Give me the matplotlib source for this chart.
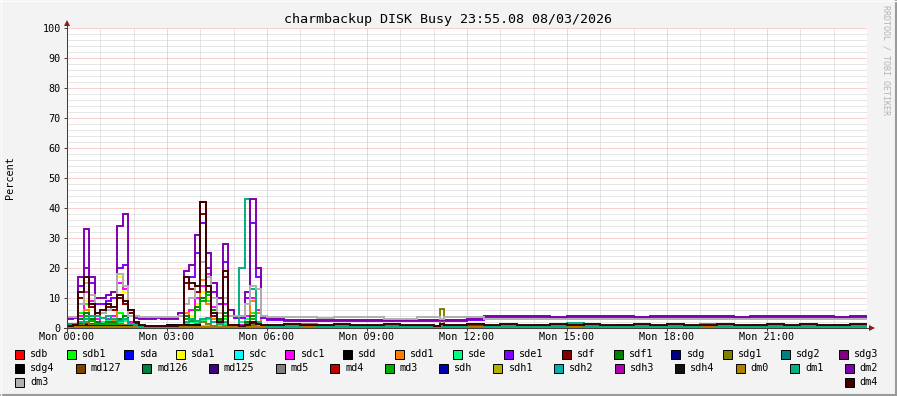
"""
    Disk busy chart (rrdtool style) for charmbackup
"""

import numpy as np
import matplotlib
matplotlib.use('Agg')
import matplotlib.pyplot as plt
from matplotlib.patches import Rectangle, Polygon

plt.rcParams['font.family'] = ['DejaVu Sans Mono']

# time axis (hours from Mon 00:00): 10 min steps for the busy morning,
# 30 min steps later on, with one short sample around 11:12
edges = np.concatenate([np.arange(0, 36) / 6,
                        np.arange(12, 22) / 2,
                        [11.0, 11.2, 11.3],
                        np.arange(23, 49) / 2])
hours = np.arange(25)

# busy series (one value per sample in edges)
dm2 = [3.5, 3.8, 17, 33, 17, 10, 10, 11, 12, 34, 38, 6, 4, 3.5, 3.6, 3.4, 3.8, 3.5,
       3.2, 3.5, 5, 19, 21, 31, 42, 25, 15, 10, 28, 6, 4, 4, 12, 43, 20, 4,
       3.0, 2.8, 2.7, 2.8, 2.7, 2.7, 2.8, 2.7, 2.6, 2.6, 2.6, 2.6, 2.7, 2.8, 3.0, 3.9,
       4.0, 3.9, 4.1, 3.8, 4.0, 4.1, 3.9, 4.0, 3.8, 4.1, 4.0, 3.9, 4.0, 4.1, 3.8, 4.0,
       3.9, 4.1, 4.0, 3.9, 3.8, 4.0]
sde1 = [3.0, 3.2, 14, 20, 15, 8, 8, 9, 10, 20, 21, 5, 3.5, 3.0, 3.0, 3.0, 3.2, 3.0,
        3.0, 3.0, 4, 15, 17, 25, 35, 20, 12, 8, 22, 4, 3.5, 3.5, 10, 35, 17, 3.5,
        2.6, 2.5, 2.4, 2.5, 2.4, 2.5, 2.5, 2.4, 2.3, 2.4, 2.3, 2.4, 2.4, 2.5, 2.7, 3.6,
        3.7, 3.6, 3.8, 3.5, 3.7, 3.8, 3.6, 3.7, 3.5, 3.8, 3.7, 3.6, 3.7, 3.8, 3.5, 3.7,
        3.6, 3.8, 3.7, 3.6, 3.5, 3.7]
dm4 = [0.7, 1, 12, 17, 8, 5, 6, 8, 7, 11, 9, 6, 2, 1, 0.6, 0.7, 0.6, 0.6,
       0.7, 0.6, 1, 17, 15, 14, 42, 14, 5, 2, 19, 1, 1, 0.8, 1, 2, 1.5, 1,
       1.0, 1.2, 0.9, 1.1, 1.3, 1.0, 0.9, 1.2, 1.1, 1.0, 0.8, 1.2, 1.0, 1.1, 1.3, 1.0,
       1.2, 0.9, 1.1, 1.3, 1.0, 1.2, 0.9, 1.1, 1.2, 1.0, 1.3, 0.9, 1.1, 1.2, 1.0, 1.1,
       1.3, 0.9, 1.2, 1.0, 1.1, 1.2]
sdf = [0.5, 0.8, 10, 15, 7, 4, 5, 7, 6, 10, 8, 5, 1.5, 0.8, 0.5, 0.5, 0.5, 0.5,
       0.5, 0.5, 0.8, 15, 13, 12, 38, 12, 4, 1.5, 17, 0.8, 0.8, 0.6, 0.8, 1.5, 1.2, 0.8,
       0.8, 0.9, 0.7, 0.9, 1.0, 0.8, 0.7, 0.9, 0.8, 0.8, 0.6, 0.9, 0.8, 0.9, 1.0, 0.8,
       0.9, 0.7, 0.9, 1.0, 0.8, 0.9, 0.7, 0.9, 1.0, 0.8, 1.0, 0.7, 0.9, 1.0, 0.8, 0.9,
       1.0, 0.7, 0.9, 0.8, 0.9, 1.0]
dm3 = [3.7, 3.7, 8, 15, 11, 5, 5, 6, 7, 18, 14, 4, 4, 3.7, 3.6, 3.8, 3.7, 3.6,
       3.7, 3.8, 4, 8, 10, 14, 22, 17, 10, 5, 10, 4, 4, 4, 8, 14, 13, 4,
       3.7, 3.6, 3.7, 3.5, 3.7, 3.6, 3.7, 3.1, 3.0, 3.6, 3.7, 3.0, 3.6, 3.7, 3.6, 3.0,
       3.0, 3.1, 2.9, 3.0, 3.1, 3.0, 2.9, 3.0, 3.1, 3.0, 3.0, 2.9, 3.1, 3.0, 3.0, 3.1,
       2.9, 3.0, 3.0, 3.1, 3.0, 2.9]
dm1 = [1.2, 1.5, 2, 3, 4, 4, 3.5, 4, 3, 2.5, 3, 1.5, 1, 0.8, 0.7, 0.6, 0.8, 0.7,
       0.6, 0.7, 1, 2, 3, 2.5, 3, 3.5, 2, 1.5, 2, 1, 1, 20, 43, 13, 2, 1,
       0.6, 0.8, 1.5, 0.7, 0.6, 0.8, 0.5, 0.7, 0.6, 0.8, 0.6, 0.7, 0.6, 0.8, 1.2, 0.7,
       0.6, 0.8, 0.7, 0.6, 1.6, 0.7, 0.6, 0.8, 0.7, 0.6, 0.8, 0.7, 1.4, 0.6, 0.7, 0.8,
       0.6, 0.7, 0.6, 0.8, 0.7, 0.6]
sdc1 = [0.5, 0.8, 4, 12, 9, 3, 2, 3, 4, 15, 13, 2, 1, 0.5, 0.4, 0.5, 0.4, 0.5,
        0.4, 0.5, 1, 5, 6, 10, 14, 18, 7, 3, 8, 1, 0.8, 1, 4, 10, 6, 0.8,
        0.4, 0.5, 0.3, 0.4, 0.5, 0.4, 0.3, 0.5, 0.4, 0.4, 0.3, 0.5, 0.4, 0.4, 0.5, 0.4,
        0.5, 0.3, 0.4, 0.5, 0.4, 0.5, 0.3, 0.4, 0.5, 0.4, 0.5, 0.3, 0.4, 0.5, 0.4, 0.4,
        0.5, 0.3, 0.4, 0.4, 0.5, 0.4]
sda1 = [0.3, 0.5, 2, 9, 4, 1.5, 1, 2, 3, 17, 12, 1, 0.5, 0.3, 0.3, 0.3, 0.3, 0.3,
        0.3, 0.3, 0.5, 3, 4, 8, 12, 10, 4, 2, 5, 0.5, 0.5, 0.5, 3, 14, 5, 0.5,
        0.3, 0.3, 0.2, 0.3, 0.3, 0.2, 0.3, 0.3, 0.2, 0.3, 0.3, 0.3, 0.2, 0.3, 0.3, 0.2,
        0.3, 0.3, 0.2, 0.3, 0.3, 0.2, 0.3, 0.3, 0.2, 0.3, 0.3, 0.2, 0.3, 0.3, 0.2, 0.3,
        0.3, 0.2, 0.3, 0.3, 0.2, 0.3]
sdd1 = [0.4, 0.6, 3, 6, 3, 2, 1.5, 2, 2.5, 10, 8, 1, 0.5, 0.4, 0.3, 0.4, 0.3, 0.4,
        0.3, 0.4, 0.6, 5, 3, 6, 16, 8, 3, 1.5, 4, 0.5, 0.5, 0.6, 2, 9, 5, 0.5,
        0.3, 0.4, 0.3, 0.3, 0.4, 0.3, 0.3, 0.4, 0.3, 0.3, 0.3, 0.4, 0.3, 0.3, 0.4, 0.3,
        0.3, 0.4, 0.3, 0.3, 0.4, 0.3, 0.3, 0.4, 0.3, 0.3, 0.4, 0.3, 0.3, 0.4, 0.3, 0.3,
        0.4, 0.3, 0.3, 0.4, 0.3, 0.3]
sdb1 = [0.5, 1, 5, 8, 4, 3, 2, 3, 2, 5, 4, 1.5, 0.5, 0.5, 0.4, 0.5, 0.4, 0.5,
        0.4, 0.5, 1, 3, 6, 8, 12, 9, 4, 2, 3, 1, 1, 1, 2, 5, 2, 0.5,
        0.5, 0.4, 0.5, 0.6, 0.4, 0.5, 0.4, 0.5, 0.6, 0.4, 0.5, 0.4, 0.5, 0.5, 0.4, 0.6,
        0.5, 0.4, 0.5, 0.6, 0.4, 0.5, 0.5, 0.4, 0.6, 0.5, 0.4, 0.5, 0.6, 0.4, 0.5, 0.5,
        0.4, 0.6, 0.5, 0.4, 0.5, 0.5]
sdf1 = [0.4, 0.8, 3, 5, 3, 2, 1.5, 2, 2, 3, 4, 1, 0.5, 0.4, 0.4, 0.4, 0.4, 0.4,
        0.4, 0.4, 0.8, 4, 3, 7, 10, 12, 6, 3, 5, 0.8, 0.6, 0.8, 2, 4, 2, 0.5,
        0.5, 0.6, 0.5, 0.4, 0.6, 0.5, 0.5, 0.6, 0.4, 0.5, 0.5, 0.6, 0.5, 0.4, 0.6, 0.5,
        0.5, 0.6, 0.4, 0.5, 0.6, 0.5, 0.4, 0.5, 0.6, 0.5, 0.5, 0.4, 0.6, 0.5, 0.5, 0.6,
        0.4, 0.5, 0.6, 0.5, 0.4, 0.5]
md3 = [0.3, 0.6, 2, 4, 2.5, 1.5, 1, 1.5, 1.5, 2.5, 3, 0.8, 0.4, 0.3, 0.3, 0.3, 0.3, 0.3,
       0.3, 0.3, 0.6, 3, 2.5, 6, 9, 11, 5, 2.5, 4, 0.6, 0.5, 0.6, 1.5, 3, 1.5, 0.4,
       0.4, 0.5, 0.4, 0.3, 0.5, 0.4, 0.4, 0.5, 0.3, 0.4, 0.4, 0.5, 0.4, 0.3, 0.5, 0.4,
       0.4, 0.5, 0.3, 0.4, 0.5, 0.4, 0.3, 0.4, 0.5, 0.4, 0.4, 0.3, 0.5, 0.4, 0.4, 0.5,
       0.3, 0.4, 0.5, 0.4, 0.3, 0.4]
sde = [0.8, 1, 2, 3, 2.5, 2, 2, 2.5, 2, 2, 2.5, 1, 0.6, 0.5, 0.5, 0.6, 0.5, 0.5,
       0.6, 0.5, 0.8, 1.5, 2, 2, 2.5, 3, 2, 1.5, 1.5, 0.8, 0.8, 2, 3, 2, 1, 0.6,
       0.6, 0.7, 0.6, 0.8, 0.6, 0.7, 0.6, 0.6, 0.7, 0.6, 0.8, 0.6, 0.7, 0.6, 0.6, 0.7,
       0.6, 0.8, 0.6, 0.7, 0.6, 0.6, 0.7, 0.6, 0.8, 0.6, 0.7, 0.6, 0.6, 0.7, 0.6, 0.8,
       0.6, 0.7, 0.6, 0.6, 0.7, 0.6]
sdg1 = [0.2, 0.3, 1, 2, 1, 0.5, 0.5, 0.6, 0.5, 1.5, 1, 0.3, 0.2, 0.2, 0.2, 0.2, 0.2, 0.2,
        0.2, 0.2, 0.3, 1, 1, 1.5, 2, 1.5, 0.8, 0.5, 0.8, 0.3, 0.3, 0.3, 0.5, 1, 0.5, 0.2,
        0.2, 0.2, 0.3, 0.2, 0.2, 0.3, 0.2, 0.2, 0.3, 0.2, 0.2, 6.4, 0.2, 0.3, 0.2, 0.2,
        0.3, 0.2, 0.2, 0.3, 0.2, 0.2, 0.3, 0.2, 0.2, 0.3, 0.2, 0.2, 0.3, 0.2, 0.2, 0.3,
        0.2, 0.2, 0.3, 0.2, 0.2, 0.3]

# quiet series (hourly values)
sdb = [1.2, 0.8, 0.4, 0.9, 0.5, 0.3, 0.2, 0.2, 0.3, 0.2, 0.2, 0.3, 0.2, 0.2, 0.3, 0.2, 0.2, 0.3, 0.2, 0.2, 0.3, 0.2, 0.2, 0.3]
sda = [0.6, 0.5, 0.3, 0.7, 0.4, 0.2, 0.1, 0.1, 0.2, 0.1, 0.1, 0.2, 0.1, 0.1, 0.2, 0.1, 0.1, 0.2, 0.1, 0.1, 0.2, 0.1, 0.1, 0.2]
sdc = [1.0, 0.9, 0.4, 1.1, 0.6, 0.5, 0.3, 0.3, 0.4, 0.3, 0.3, 0.4, 0.3, 0.3, 0.4, 0.3, 0.3, 0.4, 0.3, 0.3, 0.4, 0.3, 0.3, 0.4]
sdd = [0.9, 0.7, 0.3, 1.0, 0.5, 0.3, 0.2, 0.3, 0.2, 0.2, 0.3, 0.2, 0.2, 0.3, 0.2, 0.2, 0.3, 0.2, 0.2, 0.3, 0.2, 0.2, 0.3, 0.2]
sdg = [0.4, 0.3, 0.2, 0.5, 0.3, 0.2, 0.1, 0.1, 0.1, 0.1, 0.1, 0.1, 0.1, 0.1, 0.1, 0.1, 0.1, 0.1, 0.1, 0.1, 0.1, 0.1, 0.1, 0.1]
sdg2 = [0.5, 0.4, 0.2, 0.6, 0.3, 0.2, 0.2, 0.2, 0.2, 0.2, 0.2, 0.2, 0.2, 0.2, 0.2, 0.2, 0.2, 0.2, 0.2, 0.2, 0.2, 0.2, 0.2, 0.2]
sdg3 = [0.6, 0.5, 0.3, 0.7, 0.4, 0.3, 0.2, 0.2, 0.2, 0.2, 0.2, 0.2, 0.2, 0.2, 0.2, 0.2, 0.2, 0.2, 0.2, 0.2, 0.2, 0.2, 0.2, 0.2]
sdg4 = [0.8, 0.6, 0.3, 0.9, 0.5, 0.4, 0.3, 0.3, 0.3, 0.3, 0.3, 0.3, 0.3, 0.3, 0.3, 0.3, 0.3, 0.3, 0.3, 0.3, 0.3, 0.3, 0.3, 0.3]
md127 = [0.4, 0.4, 0.3, 0.5, 0.4, 0.3, 0.3, 0.3, 0.3, 0.3, 0.3, 0.3, 0.3, 0.3, 0.3, 0.3, 0.3, 0.3, 0.3, 0.3, 0.3, 0.3, 0.3, 0.3]
md126 = [0.5, 0.4, 0.3, 0.6, 0.3, 0.3, 0.2, 0.2, 0.2, 0.2, 0.2, 0.2, 0.2, 0.2, 0.2, 0.2, 0.2, 0.2, 0.2, 0.2, 0.2, 0.2, 0.2, 0.2]
md125 = [0.3, 0.3, 0.2, 0.4, 0.2, 0.2, 0.1, 0.1, 0.1, 0.1, 0.1, 0.1, 0.1, 0.1, 0.1, 0.1, 0.1, 0.1, 0.1, 0.1, 0.1, 0.1, 0.1, 0.1]
md5 = [0.7, 0.6, 0.3, 0.8, 0.4, 0.3, 0.2, 0.2, 0.2, 0.2, 0.2, 0.2, 0.2, 0.2, 0.2, 0.2, 0.2, 0.2, 0.2, 0.2, 0.2, 0.2, 0.2, 0.2]
md4 = [0.6, 0.5, 0.3, 0.7, 0.4, 0.2, 0.2, 0.2, 0.2, 0.2, 0.2, 0.2, 0.2, 0.2, 0.2, 0.2, 0.2, 0.2, 0.2, 0.2, 0.2, 0.2, 0.2, 0.2]
sdh = [0.4, 0.3, 0.2, 0.5, 0.3, 0.2, 0.1, 0.1, 0.1, 0.1, 0.1, 0.1, 0.1, 0.1, 0.1, 0.1, 0.1, 0.1, 0.1, 0.1, 0.1, 0.1, 0.1, 0.1]
sdh1 = [0.5, 0.4, 0.2, 0.6, 0.3, 0.2, 0.2, 0.2, 0.2, 0.2, 0.2, 0.2, 0.2, 0.2, 0.2, 0.2, 0.2, 0.2, 0.2, 0.2, 0.2, 0.2, 0.2, 0.2]
sdh2 = [0.6, 0.5, 0.3, 0.7, 0.4, 0.3, 0.2, 0.2, 0.2, 0.2, 0.2, 0.2, 0.2, 0.2, 0.2, 0.2, 0.2, 0.2, 0.2, 0.2, 0.2, 0.2, 0.2, 0.2]
sdh3 = [0.5, 0.4, 0.2, 0.6, 0.3, 0.2, 0.2, 0.2, 0.2, 0.2, 0.2, 0.2, 0.2, 0.2, 0.2, 0.2, 0.2, 0.2, 0.2, 0.2, 0.2, 0.2, 0.2, 0.2]
sdh4 = [0.7, 0.6, 0.3, 0.8, 0.4, 0.3, 0.3, 0.3, 0.3, 0.3, 0.3, 0.3, 0.3, 0.3, 0.3, 0.3, 0.3, 0.3, 0.3, 0.3, 0.3, 0.3, 0.3, 0.3]
dm0 = [0.3, 0.3, 0.2, 0.4, 0.2, 0.2, 0.2, 0.2, 0.2, 0.2, 0.2, 0.2, 0.2, 0.2, 0.2, 0.2, 0.2, 0.2, 0.2, 0.2, 0.2, 0.2, 0.2, 0.2]

# legend order, colours
names = ['sdb', 'sdb1', 'sda', 'sda1', 'sdc', 'sdc1', 'sdd', 'sdd1', 'sde', 'sde1',
         'sdf', 'sdf1', 'sdg', 'sdg1', 'sdg2', 'sdg3', 'sdg4', 'md127', 'md126',
         'md125', 'md5', 'md4', 'md3', 'sdh', 'sdh1', 'sdh2', 'sdh3', 'sdh4',
         'dm0', 'dm1', 'dm2', 'dm3', 'dm4']
colors = ['#ff0000', '#00ff00', '#0000ff', '#ffff00', '#00ffff', '#ff00ff', '#000000',
          '#ff8000', '#00ff80', '#8000ff', '#800000', '#008000', '#000080', '#808000',
          '#008080', '#800080', '#000000', '#804000', '#008040', '#400080', '#808080',
          '#c00000', '#00b000', '#0000b0', '#b0b000', '#00b0b0', '#b000b0', '#101010',
          '#b08000', '#00b080', '#8000b0', '#b0b0b0', '#400000']
values = [sdb, sdb1, sda, sda1, sdc, sdc1, sdd, sdd1, sde, sde1, sdf, sdf1, sdg, sdg1,
          sdg2, sdg3, sdg4, md127, md126, md125, md5, md4, md3, sdh, sdh1, sdh2, sdh3,
          sdh4, dm0, dm1, dm2, dm3, dm4]
legend_rows = [names[:16], names[16:31], names[31:]]

W, H = 897, 396
fig = plt.figure(figsize=(W / 100, H / 100), dpi=100, facecolor='#f3f3f3')

# plot canvas
ax = fig.add_axes([67 / W, (H - 328) / H, 800 / W, 300 / H], facecolor='white')
ax.set_xlim(0, 24)
ax.set_ylim(0, 100)
for s in ax.spines.values():
    s.set_visible(False)

ax.set_xticks(np.arange(0, 24, 3))
ax.set_xticklabels(['Mon %02d:00' % h for h in range(0, 24, 3)])
ax.set_yticks(np.arange(0, 101, 10))
ax.set_xticks(np.arange(0, 25, 1), minor=True)
ax.set_yticks(np.arange(0, 101, 2), minor=True)
ax.tick_params(which='major', length=2, width=0.7, color='#404040', labelsize=7.3)
ax.tick_params(axis='x', which='major', pad=1.2)
ax.tick_params(axis='y', which='major', pad=2.5)
ax.tick_params(which='minor', length=0)
ax.grid(which='minor', color='#cfcfcf', lw=0.72, ls=(0, (1, 1)))
ax.grid(which='major', color='#f4a0a0', lw=0.72, ls=(0, (1, 1)))
ax.set_axisbelow(True)

# data lines
for name, c, v in zip(names, colors, values):
    t = hours if len(v) == 24 else edges
    ax.stairs(v, t, baseline=None, color=c, lw=1.4, joinstyle='miter')

# overlay in pixel coordinates for frame, axes arrows, texts and legend
ov = fig.add_axes([0, 0, 1, 1], zorder=5)
ov.set_xlim(0, W)
ov.set_ylim(H, 0)
ov.axis('off')
ov.patch.set_alpha(0)

ov.plot([0, W], [H - 1, H - 1], color='#9a9a9a', lw=1.5)
ov.plot([W - 1, W - 1], [0, H], color='#9a9a9a', lw=1.5)
ov.plot([0, W], [0.5, 0.5], color='#fcfcfc', lw=1)
ov.plot([0.5, 0.5], [0, H], color='#fcfcfc', lw=1)

axis_c = '#404040'
arrow_c = '#8b1a1a'
ov.plot([64, 869], [328, 328], color=axis_c, lw=0.75)
ov.plot([67, 67], [331, 25], color=axis_c, lw=0.75)
ov.add_patch(Polygon([[869, 325], [869, 331], [875, 328]], closed=True, color=arrow_c, lw=0))
ov.add_patch(Polygon([[64, 26], [70, 26], [67, 20]], closed=True, color=arrow_c, lw=0))

ov.text(448, 19, 'charmbackup DISK Busy 23:55.08 08/03/2026', ha='center', va='center',
        fontsize=9.6, color='black')
ov.text(10, 178, 'Percent', rotation=90, ha='center', va='center', fontsize=7.3)
ov.text(886, 60, 'RRDTOOL / TOBI OETIKER', rotation=270, ha='center', va='center',
        fontsize=6, color='#b4b4b4')

# justified legend, like rrdtool does it
char_w = 6.1
row_y = [354, 368, 382]
x0, x1 = 15, 878
for row, y in zip(legend_rows, row_y):
    widths = [15 + len(n) * char_w for n in row]
    gap = (x1 - x0 - sum(widths)) / (len(row) - 1)
    x = x0
    for n, w in zip(row, widths):
        c = colors[names.index(n)]
        ov.add_patch(Rectangle((x, y - 4.5), 9, 9, facecolor=c, edgecolor='black', lw=0.7))
        ov.text(x + 15, y, n, ha='left', va='center', fontsize=7.3)
        x += w + gap

fig.savefig('out.png', dpi=100, facecolor=fig.get_facecolor())
